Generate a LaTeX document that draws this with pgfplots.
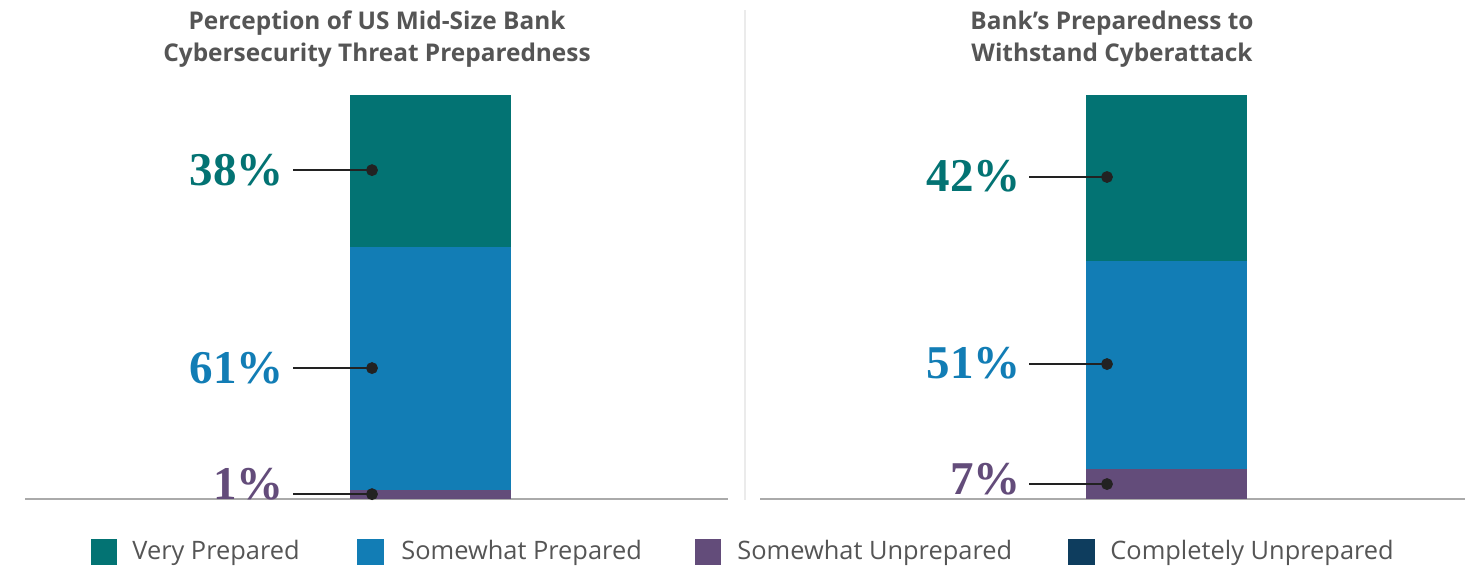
\documentclass[border=0pt]{standalone}
\usepackage{fontspec}
\setmainfont{Open Sans}
\newfontfamily\numfont{Liberation Serif}
\usepackage{pgfplots}
\pgfplotsset{compat=1.18}
\definecolor{cVP}{HTML}{037373}
\definecolor{cSP}{HTML}{127DB5}
\definecolor{cSU}{HTML}{634C7A}
\definecolor{cCU}{HTML}{0E3D5E}
\definecolor{ctext}{HTML}{555555}
\definecolor{cbase}{HTML}{AAAAAA}
\definecolor{csep}{HTML}{EBEBEB}
\definecolor{cdot}{HTML}{222222}
\pgfplotsset{
  panel/.style={anchor=south west, scale only axis, height=202pt,
    ymin=0, ymax=100, clip=false, axis x line=bottom, axis y line=none,
    xtick=\empty, ytick=\empty, axis line style={draw=cbase, line width=1.1pt, -}},
  over/.style={anchor=south west, scale only axis, height=202pt,
    ymin=0, ymax=100, clip=false, hide axis},
}
\tikzset{
  lead/.style={cdot, line width=0.7pt, mark=*, mark indices={2}, mark size=2.6pt,
    mark options={fill=cdot, draw=cdot}},
  pct/.style={anchor=east, inner sep=0pt, font=\numfont\bfseries\fontsize{23.5}{24}\selectfont},
}
\begin{document}
\begin{tikzpicture}[x=0.5pt,y=0.5pt]
\useasboundingbox (0,0) rectangle (1480,567);
% separator
\draw[csep, line width=1.2pt] (745,557) -- (745,67);
% titles
\begin{scope}[every node/.style={anchor=base, inner sep=0pt, text=ctext, font=\bfseries\fontsize{12.2}{12}\selectfont}]
\node at (377,537) {Perception of US Mid-Size Bank};
\node at (377,505) {Cybersecurity Threat Preparedness};
\node at (1112,537) {Bank’s Preparedness to};
\node at (1112,505) {Withstand Cyberattack};
\end{scope}
% left panel
\begin{axis}[panel, at={(12.5pt,34pt)}, width=351.5pt, xmin=0, xmax=703,
  ybar stacked, bar width=80.5pt]
\addplot[fill=cSU, draw=none] coordinates {(405.5,2.2)};
\addplot[fill=cSP, draw=none] coordinates {(405.5,60.2)};
\addplot[fill=cVP, draw=none] coordinates {(405.5,37.6)};
\end{axis}
\begin{axis}[over, at={(12.5pt,34pt)}, width=351.5pt, xmin=0, xmax=703]
\addplot[lead] coordinates {(268,81.4) (347,81.4)};
\addplot[lead] coordinates {(268,32.4) (347,32.4)};
\addplot[lead] coordinates {(268,1.2) (347,1.2)};
\node[pct, text=cVP] at (axis cs:259,81.5) {38\%};
\node[pct, text=cSP] at (axis cs:259,32.5) {61\%};
\node[pct, text=cSU] at (axis cs:259,3.6) {1\%};
\end{axis}
% right panel
\begin{axis}[panel, at={(380pt,34pt)}, width=352.5pt, xmin=0, xmax=705,
  ybar stacked, bar width=80.5pt]
\addplot[fill=cSU, draw=none] coordinates {(406.5,7.4)};
\addplot[fill=cSP, draw=none] coordinates {(406.5,51.5)};
\addplot[fill=cVP, draw=none] coordinates {(406.5,41.1)};
\end{axis}
\begin{axis}[over, at={(380pt,34pt)}, width=352.5pt, xmin=0, xmax=705]
\addplot[lead] coordinates {(269,79.7) (347,79.7)};
\addplot[lead] coordinates {(269,33.4) (347,33.4)};
\addplot[lead] coordinates {(269,3.7) (347,3.7)};
\node[pct, text=cVP] at (axis cs:261,80) {42\%};
\node[pct, text=cSP] at (axis cs:261,33.5) {51\%};
\node[pct, text=cSU] at (axis cs:261,4.9) {7\%};
\end{axis}
% legend
\fill[cVP] (91,2) rectangle (117,28);
\fill[cSP] (357,2) rectangle (384,28);
\fill[cSU] (695,2) rectangle (721,28);
\fill[cCU] (1068,2) rectangle (1095,28);
\begin{scope}[every node/.style={anchor=base west, inner sep=0pt, text=ctext, font=\fontsize{12.7}{14}\selectfont}]
\node at (132,7) {Very Prepared};
\node at (401,7) {Somewhat Prepared};
\node at (737,7) {Somewhat Unprepared};
\node at (1110,7) {Completely Unprepared};
\end{scope}
\end{tikzpicture}
\end{document}
